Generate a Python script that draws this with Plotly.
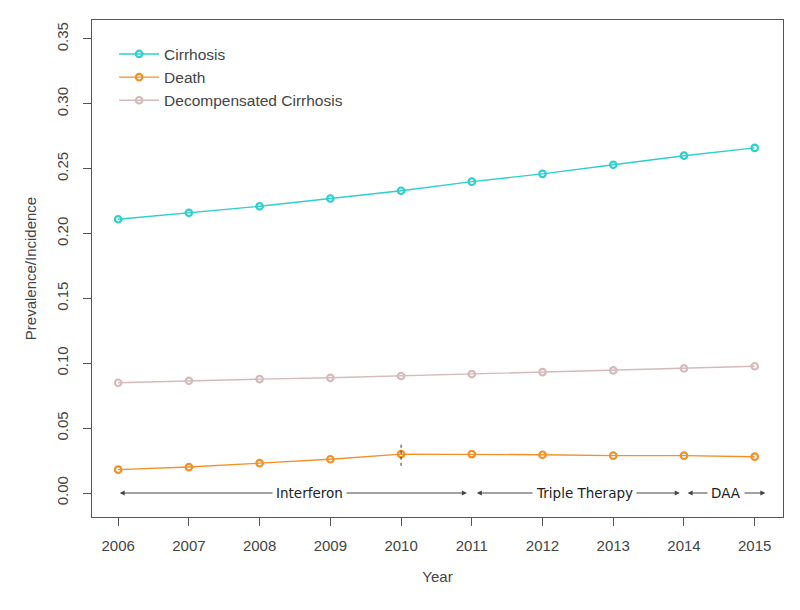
import plotly.graph_objects as go

years = [2006, 2007, 2008, 2009, 2010, 2011, 2012, 2013, 2014, 2015]
cirrhosis = [0.211, 0.216, 0.221, 0.227, 0.233, 0.240, 0.246, 0.253, 0.260, 0.266]
death = [0.018, 0.020, 0.023, 0.026, 0.030, 0.030, 0.0295, 0.0288, 0.0288, 0.028]
decomp = [0.085, 0.0865, 0.0878, 0.0888, 0.0902, 0.0917, 0.0932, 0.0945, 0.0960, 0.0977]

y_ticks = [0.00, 0.05, 0.10, 0.15, 0.20, 0.25, 0.30, 0.35]

period_names = ["Interferon", "Triple Therapy", "DAA"]
period_start = [2006.0, 2011.05, 2014.03]
period_end = [2010.93, 2013.94, 2015.15]
period_label_x = [2008.7, 2012.6, 2014.6]
period_y = 0.0

marker_year = 2010
marker_span = [0.021, 0.038]

series = [
    ("Cirrhosis", cirrhosis, "#2FCFCB"),
    ("Death", death, "#F2902A"),
    ("Decompensated Cirrhosis", decomp, "#D4BABA"),
]

fig = go.Figure()
for name, vals, col in series:
    fig.add_trace(go.Scatter(
        x=years, y=vals, name=name, mode="lines+markers",
        line=dict(color=col, width=1.4),
        marker=dict(symbol="circle-open", size=6.5, color=col, line=dict(width=2.2, color=col)),
    ))

# vertical dashed marker at 2010
fig.add_trace(go.Scatter(
    x=[marker_year, marker_year], y=marker_span, mode="lines",
    line=dict(color="#333333", width=1, dash="3px,3px"), showlegend=False, hoverinfo="skip",
))

annotations = []
for name, s, e, lx in zip(period_names, period_start, period_end, period_label_x):
    annotations.append(dict(
        x=e, y=period_y, ax=s, ay=period_y, xref="x", yref="y", axref="x", ayref="y",
        text="", showarrow=True, arrowhead=2, arrowside="end+start", arrowsize=1.0,
        arrowwidth=1, arrowcolor="#444444", standoff=0, startstandoff=0,
    ))
    annotations.append(dict(
        x=lx, y=period_y, xref="x", yref="y", text=name, showarrow=False,
        font=dict(family="DejaVu Sans", size=13.5, color="#222222"),
        bgcolor="white", borderpad=3,
    ))

fig.update_layout(
    width=800, height=610,
    paper_bgcolor="white", plot_bgcolor="white",
    margin=dict(l=84, r=25, t=12, b=101, autoexpand=False),
    font=dict(family="Liberation Sans, Arial, sans-serif", size=15, color="#444444"),
    showlegend=True,
    legend=dict(
        x=0.032, y=0.965, xanchor="left", yanchor="top",
        bgcolor="rgba(0,0,0,0)", font=dict(size=15.5, color="#444444"),
        itemwidth=40, tracegroupgap=0,
    ),
    annotations=annotations,
)
fig.update_xaxes(
    range=[2005.63, 2015.4], tickvals=years, ticktext=[str(y) for y in years],
    showgrid=False, zeroline=False, showline=True, mirror=True, automargin=False,
    linecolor="#555555", linewidth=1.2, ticks="outside", ticklen=8,
    tickcolor="#555555", tickfont=dict(size=15, color="#444444"), ticklabelstandoff=7,
    title=dict(text="Year", font=dict(size=15, color="#444444"), standoff=18),
)
fig.update_yaxes(
    range=[-0.0185, 0.3646], tickvals=y_ticks, ticktext=[f"{v:.2f}" for v in y_ticks],
    tickangle=-90, showgrid=False, zeroline=False, showline=True, mirror=True, automargin=False,
    linecolor="#555555", linewidth=1.2, ticks="outside", ticklen=8,
    tickcolor="#555555", tickfont=dict(size=15, color="#444444"), ticklabelstandoff=9,
    title=dict(text="Prevalence/Incidence", font=dict(size=15, color="#444444"), standoff=13),
)

fig.write_html("out.html")
